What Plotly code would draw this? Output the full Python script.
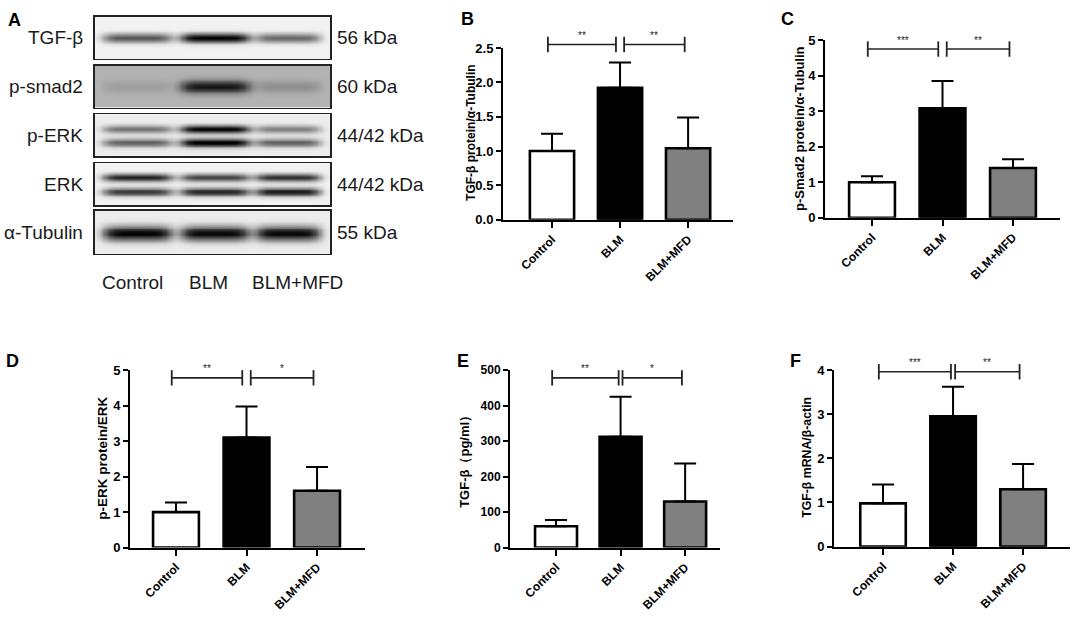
import numpy as np
import plotly.graph_objects as go

W, H = 1072, 621
FONT = "Liberation Sans, Arial, sans-serif"

# ---------------- data ----------------
groups = ["Control", "BLM", "BLM+MFD"]

# Western blot (panel A): relative band darkness per lane
blot_names = ["TGF-β", "p-smad2", "p-ERK", "ERK", "α-Tubulin"]
blot_kda = ["56 kDa", "60 kDa", "44/42 kDa", "44/42 kDa", "55 kDa"]
tgf_band = [0.62, 0.97, 0.55]
psmad2_band = [0.08, 0.62, 0.14]
perk_upper = [0.50, 0.97, 0.45]
perk_lower = [0.55, 0.97, 0.55]
erk_upper = [0.85, 0.72, 0.80]
erk_lower = [0.72, 0.80, 0.85]
tub_band = [0.92, 0.90, 0.90]

# Panel B: TGF-β protein/α-Tubulin
b_mean = [1.00, 1.92, 1.04]
b_top = [1.25, 2.29, 1.49]
b_sig = ["**", "**"]
# Panel C: p-Smad2 protein/α-Tubulin
c_mean = [1.00, 3.08, 1.40]
c_top = [1.17, 3.85, 1.65]
c_sig = ["***", "**"]
# Panel D: p-ERK protein/ERK
d_mean = [1.00, 3.10, 1.60]
d_top = [1.27, 3.97, 2.27]
d_sig = ["**", "*"]
# Panel E: TGF-β (pg/ml)
e_mean = [60, 312, 130]
e_top = [78, 425, 237]
e_sig = ["**", "*"]
# Panel F: TGF-β mRNA/β-actin
f_mean = [0.98, 2.95, 1.30]
f_top = [1.41, 3.62, 1.87]
f_sig = ["***", "**"]

bar_colors = ["#ffffff", "#000000", "#808080"]


def xd(a, b):
    return [a / W, b / W]


def yd(top, bottom):
    return [1 - bottom / H, 1 - top / H]


fig = go.Figure()
layout = dict(width=W, height=H, margin=dict(l=0, r=0, t=0, b=0),
              paper_bgcolor="white", plot_bgcolor="rgba(0,0,0,0)", showlegend=False,
              font=dict(family=FONT, color="black"))
annotations = []

# ---------------- Panel A: blot ----------------
strip_px = [(10, 53), (60, 103), (110, 153), (160, 203), (209, 253)]
lane_c = [0.18, 0.51, 0.82]
lane_hw = [0.15, 0.15, 0.14]
xs = np.linspace(0, 1, 200)
ys = np.linspace(0, 1, 50)
X, Y = np.meshgrid(xs, ys)

strips = [
    (0.05, [(0.50, 0.11, tgf_band)]),
    (0.30, [(0.50, 0.15, psmad2_band)]),
    (0.07, [(0.65, 0.09, perk_upper), (0.33, 0.10, perk_lower)]),
    (0.05, [(0.66, 0.09, erk_upper), (0.32, 0.10, erk_lower)]),
    (0.07, [(0.48, 0.17, tub_band)]),
]

for i, (bg, bands) in enumerate(strips):
    z = np.full_like(X, bg)
    for (yc, sy, inten) in bands:
        for k in range(3):
            prof = np.exp(-((X - lane_c[k]) / lane_hw[k]) ** 6)
            z = z + inten[k] * np.exp(-((Y - yc) / sy) ** 2) * prof
    z = np.clip(z, 0, 1)
    ax = i + 1
    fig.add_trace(go.Heatmap(z=z, x=xs, y=ys, zmin=0, zmax=1, showscale=False,
                             colorscale=[[0, "#ffffff"], [1, "#000000"]],
                             zsmooth="best", hoverinfo="skip",
                             xaxis=f"x{ax}", yaxis=f"y{ax}"))
    t, b = strip_px[i]
    axis_common = dict(showline=True, mirror=True, linecolor="#222", linewidth=1.6,
                       showticklabels=False, ticks="", showgrid=False, zeroline=False,
                       range=[0, 1])
    layout[f"xaxis{ax}"] = dict(domain=xd(95, 330), anchor=f"y{ax}", **axis_common)
    layout[f"yaxis{ax}"] = dict(domain=yd(t, b), anchor=f"x{ax}", **axis_common)
    cy = 1 - (t + b) / 2 / H
    annotations.append(dict(text=blot_names[i], x=85 / W, y=cy, xref="paper", yref="paper",
                            xanchor="right", yanchor="middle", showarrow=False,
                            font=dict(size=19, family=FONT, color="#1a1a1a")))
    annotations.append(dict(text=blot_kda[i], x=335 / W, y=cy, xref="paper", yref="paper",
                            xanchor="left", yanchor="middle", showarrow=False,
                            font=dict(size=19, family=FONT, color="#1a1a1a")))

for name, px in zip(groups, [132, 208, 297]):
    annotations.append(dict(text=name, x=px / W, y=1 - 282 / H, xref="paper", yref="paper",
                            xanchor="center", yanchor="middle", showarrow=False,
                            font=dict(size=19, family=FONT, color="#1a1a1a")))

# ---------------- Bar panels ----------------
panels = [
    ("B", b_mean, b_top, b_sig, (503, 733), (42, 218), (-0.72, 2.66), 2.5, 0.5, ".1f", 2.55,
     "TGF-β protein/α-Tubulin", (471, 129), 12, 13, 0.06, (467, 12)),
    ("C", c_mean, c_top, c_sig, (825, 1060), (34, 216), (-0.667, 2.667), 5, 1, "d", 4.75,
     "p-Smad2 protein/α-Tubulin", (800, 125), 13, 13, 0.06, (787, 12)),
    ("D", d_mean, d_top, d_sig, (130, 365), (372, 554), (-0.652, 2.68), 5, 1, "d", 4.78,
     "p-ERK protein/ERK", (103, 463), 13.5, 13, 0.06, (12, 363)),
    ("E", e_mean, e_top, e_sig, (510, 720), (372, 554), (-0.713, 2.54), 500, 100, "d", 478,
     "TGF-β（pg/ml）", (465, 463), 13, 12, 0.03, (463, 363)),
    ("F", f_mean, f_top, f_sig, (834, 1070), (372, 553), (-0.7, 2.67), 4, 1, "d", 3.96,
     "TGF-β mRNA/β-actin", (807, 462), 12.3, 13, 0.03, (795, 363)),
]

EXT = 30  # extra pixels above each bar panel for significance brackets

for j, (lab, mean, top, sig, xpx, ypx, xr, ymax, dt, fmt, by, ytitle, tpx, tsize, ticksz, gap, lpx) in enumerate(panels):
    ax = 6 + j
    xa, ya = f"x{ax}", f"y{ax}"
    err = [t - m for t, m in zip(top, mean)]
    fig.add_trace(go.Bar(x=[0, 1, 2], y=mean, width=0.65,
                         marker=dict(color=bar_colors, line=dict(color="black", width=2.6)),
                         error_y=dict(type="data", symmetric=False, array=err,
                                      arrayminus=[0, 0, 0], color="black",
                                      thickness=2, width=11),
                         xaxis=xa, yaxis=ya, hoverinfo="skip"))
    # bracket subplot: same x scale, same y scale, taller domain
    bx, byax = f"x{ax + 5}", f"y{ax + 5}"
    top_px, bot_px = ypx
    ext_max = ymax * (bot_px - (top_px - EXT)) / (bot_px - top_px)
    spans = [(-0.06, 1 - gap), (1 + gap, 1.95)]
    for (x0, x1), s in zip(spans, sig):
        fig.add_trace(go.Scatter(x=[x0, x1], y=[by, by], mode="lines+markers",
                                 line=dict(color="#222", width=1.6),
                                 marker=dict(symbol="line-ns", size=11,
                                             line=dict(color="#222", width=1.8)),
                                 cliponaxis=False, xaxis=bx, yaxis=byax, hoverinfo="skip"))
        annotations.append(dict(text=s, x=(x0 + x1) / 2, y=by, xref=bx, yref=byax,
                                yshift=9, showarrow=False, xanchor="center", yanchor="middle",
                                font=dict(size=10, family=FONT, color="#222")))
    layout[f"xaxis{ax + 5}"] = dict(domain=xd(*xpx), anchor=byax, range=list(xr),
                                    visible=False, fixedrange=True)
    layout[f"yaxis{ax + 5}"] = dict(domain=yd(top_px - EXT, bot_px), anchor=bx,
                                    range=[0, ext_max], visible=False, fixedrange=True)

    layout[f"xaxis{ax}"] = dict(domain=xd(*xpx), anchor=ya, range=list(xr),
                                tickvals=[0, 1, 2], ticktext=groups, tickangle=-45,
                                showline=True, linecolor="black", linewidth=2,
                                ticks="outside", ticklen=6, tickwidth=2, tickcolor="black",
                                showgrid=False, zeroline=False,
                                tickfont=dict(size=12, family=FONT, weight="bold", color="black"))
    layout[f"yaxis{ax}"] = dict(domain=yd(*ypx), anchor=xa, range=[0, ymax], dtick=dt,
                                tick0=0, tickformat=fmt,
                                showline=True, linecolor="black", linewidth=2,
                                ticks="outside", ticklen=5, tickwidth=2, tickcolor="black",
                                showgrid=False, zeroline=False,
                                tickfont=dict(size=ticksz, family=FONT, weight="bold",
                                              color="black"))
    annotations.append(dict(text=ytitle, x=tpx[0] / W, y=1 - tpx[1] / H, xref="paper",
                            yref="paper", textangle=-90, showarrow=False,
                            xanchor="center", yanchor="middle",
                            font=dict(size=tsize, family=FONT, weight="bold", color="black")))
    annotations.append(dict(text=lab, x=lpx[0] / W, y=1 - lpx[1] / H, xref="paper",
                            yref="paper", showarrow=False, xanchor="center", yanchor="middle",
                            font=dict(size=18, family=FONT, weight="bold", color="black")))

annotations.append(dict(text="A", x=14 / W, y=1 - 13 / H, xref="paper", yref="paper",
                        showarrow=False, xanchor="center", yanchor="middle",
                        font=dict(size=18, family=FONT, weight="bold", color="black")))

layout["annotations"] = annotations
fig.update_layout(**layout)
fig.write_html("out.html", config={"displayModeBar": False, "staticPlot": True},
               post_script="document.body.style.margin='0px';document.body.style.overflow='hidden';")
